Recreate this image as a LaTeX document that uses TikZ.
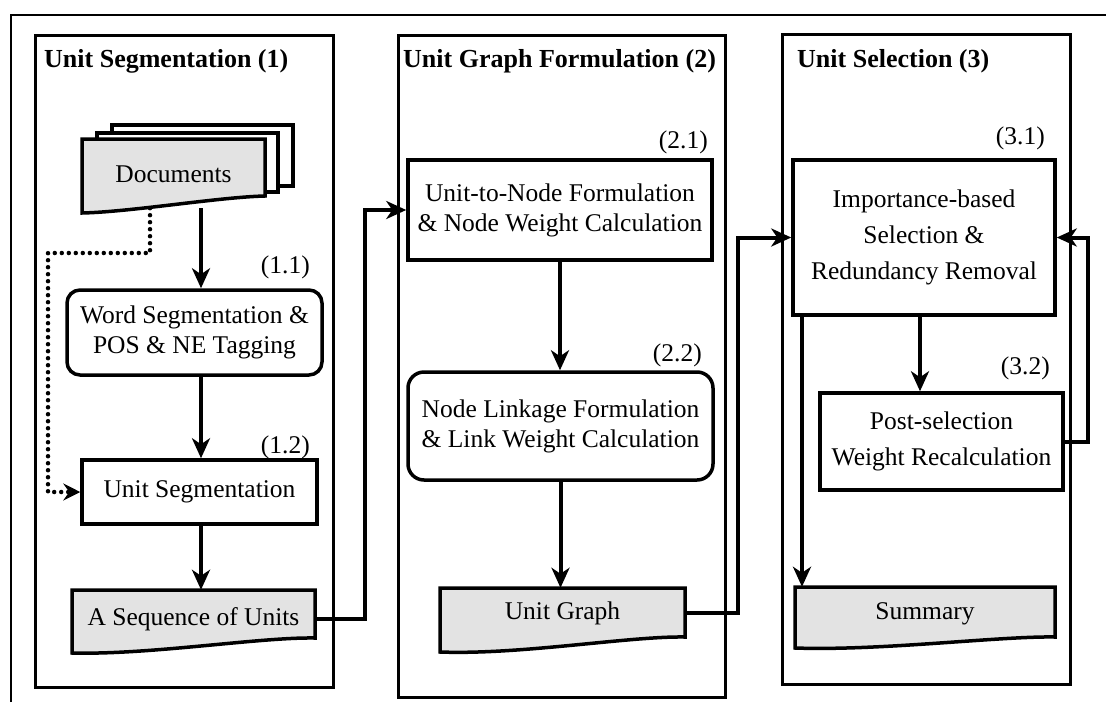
\documentclass[tikz,border=0pt]{standalone}
\usepackage{fontspec}
\setmainfont{Liberation Serif}
\usetikzlibrary{arrows.meta,calc}
\pgfdeclarelayer{wires}
\pgfdeclarelayer{shapes}
\pgfsetlayers{wires,shapes,main}

\begin{document}
\begin{tikzpicture}[x=1pt,y=-1pt,
  every node/.style={font=\fontsize{25.5}{30}\selectfont},
  box/.style={draw, line width=3.5pt, align=center, inner sep=0pt},
  rbox/.style={box, rounded corners=13pt},
  doc/.style={align=center, inner sep=0pt},
  docline/.style={draw, line width=3.5pt, line join=miter},
  docfill/.style={docline, fill=black!11},
  panel/.style={draw, line width=3pt, inner sep=0pt},
  ptitle/.style={font=\fontsize{26}{30}\selectfont\bfseries, anchor=west, inner sep=0pt},
  tag/.style={anchor=east, inner sep=0pt},
  arr/.style={line width=4pt, -{Stealth[length=20pt,width=18pt,inset=6pt]}},
  dotarr/.style={line width=4.5pt, dash pattern=on 0pt off 7pt, line cap=round,
    -{Stealth[length=17pt,width=17pt,inset=6pt]}}
]
\useasboundingbox (0,0) rectangle (1106,702);

% outer frame (top and left edges)
\draw[line width=2.5pt] (11,702) -- (11,15) -- (1106,15);

% the three stages
\node[panel, minimum width=298, minimum height=652] (p1) at (184,361) {};
\node[panel, minimum width=327, minimum height=662] (p2) at (561.5,366) {};
\node[panel, minimum width=288, minimum height=650] (p3) at (926,359) {};

\node[ptitle] (t1) at (44,61) {Unit Segmentation (1)};
\node[ptitle] (t2) at (403,61) {Unit Graph Formulation (2)};
\node[ptitle] (t3) at (797,61) {Unit Selection (3)};

% stage 1
\node[doc, minimum width=183, minimum height=68] (docs) at (173.5,174) {Documents};
\node[rbox, minimum width=255, minimum height=85] (wordseg) at (194.5,332.5)
  {Word Segmentation \&\\POS \& NE Tagging};
\node[box, minimum width=235, minimum height=64] (unitseg) at (199.5,492) {Unit Segmentation};
\node[doc, minimum width=243, minimum height=58] (seq) at (193.5,619) {A Sequence of Units};
\node[tag] (l11) at (310,267) {(1.1)};
\node[tag] (l12) at (310,447) {(1.2)};

% stage 2
\node[box, minimum width=304, minimum height=100] (u2n) at (560,210)
  {Unit-to-Node Formulation\\\& Node Weight Calculation};
\node[rbox, rounded corners=16pt, minimum width=305, minimum height=108] (nlink) at (560.5,426)
  {Node Linkage Formulation\\\& Link Weight Calculation};
\node[doc, minimum width=245, minimum height=50] (ugraph) at (562.5,613) {Unit Graph};
\node[tag] (l21) at (708,142) {(2.1)};
\node[tag] (l22) at (702,355) {(2.2)};

% stage 3
\node[box, minimum width=262, minimum height=155] (imp) at (924,237.5)
  {Importance-based\\[6pt]Selection \&\\[6pt]Redundancy Removal};
\node[box, minimum width=243, minimum height=97] (post) at (941.5,441.5)
  {Post-selection\\[6pt]Weight Recalculation};
\node[doc, minimum width=260, minimum height=54] (summary) at (925,614) {Summary};
\node[tag] (l31) at (1045,138) {(3.1)};
\node[tag] (l32) at (1050,368) {(3.2)};

% document outlines
\begin{pgfonlayer}{shapes}
  \draw[docline, fill=white] (112,125) rectangle (293,186);
  \draw[docline, fill=white] (97,133) rectangle (278,192);
  \draw[docfill] (82,139) -- (265,139) -- (265,196)
    .. controls (220,197) and (130,212) .. (82,213) -- cycle;
  \draw[docfill] (72,590) -- (315,590) -- (315,638)
    .. controls (260,637) and (150,655) .. (72,653) -- cycle;
  \draw[docfill] (440,588) -- (685,588) -- (685,637)
    .. controls (630,636) and (520,655) .. (440,652) -- cycle;
  \draw[docfill] (795,587) -- (1055,587) -- (1055,637)
    .. controls (1000,636) and (880,651) .. (795,648) -- cycle;
\end{pgfonlayer}

% connectors
\coordinate (c1) at (201,0);
\coordinate (c2) at (920,0);
\coordinate (c3) at (802,0);
\coordinate (d1) at (150,253);
\coordinate (d2) at (48,253);
\coordinate (b1) at (365,400);
\coordinate (b2) at (738,400);
\coordinate (b3) at (1088,400);

\begin{pgfonlayer}{wires}
  \draw[arr] (docs.south -| c1) -- (wordseg.north -| c1);
  \draw[arr] (wordseg.south -| c1) -- (unitseg.north -| c1);
  \draw[arr] (unitseg.south -| c1) -- (seq.north -| c1);
  \draw[dotarr] (docs.south -| d1) |- (d2) |- (unitseg.west);
  \draw[arr] (seq.east) -| (b1) |- (u2n.west);

  \draw[arr] (u2n.south) -- (u2n.south |- nlink.north);
  \draw[arr] (nlink.south) -- (nlink.south |- ugraph.north);
  \draw[arr] (ugraph.east) -| (b2) |- (imp.west);

  \draw[arr] (imp.south -| c2) -- (post.north -| c2);
  \draw[arr] (post.east) -| (b3) |- (imp.east);
  \draw[arr] (imp.south -| c3) -- (summary.north -| c3);
\end{pgfonlayer}
\end{tikzpicture}
\end{document}
